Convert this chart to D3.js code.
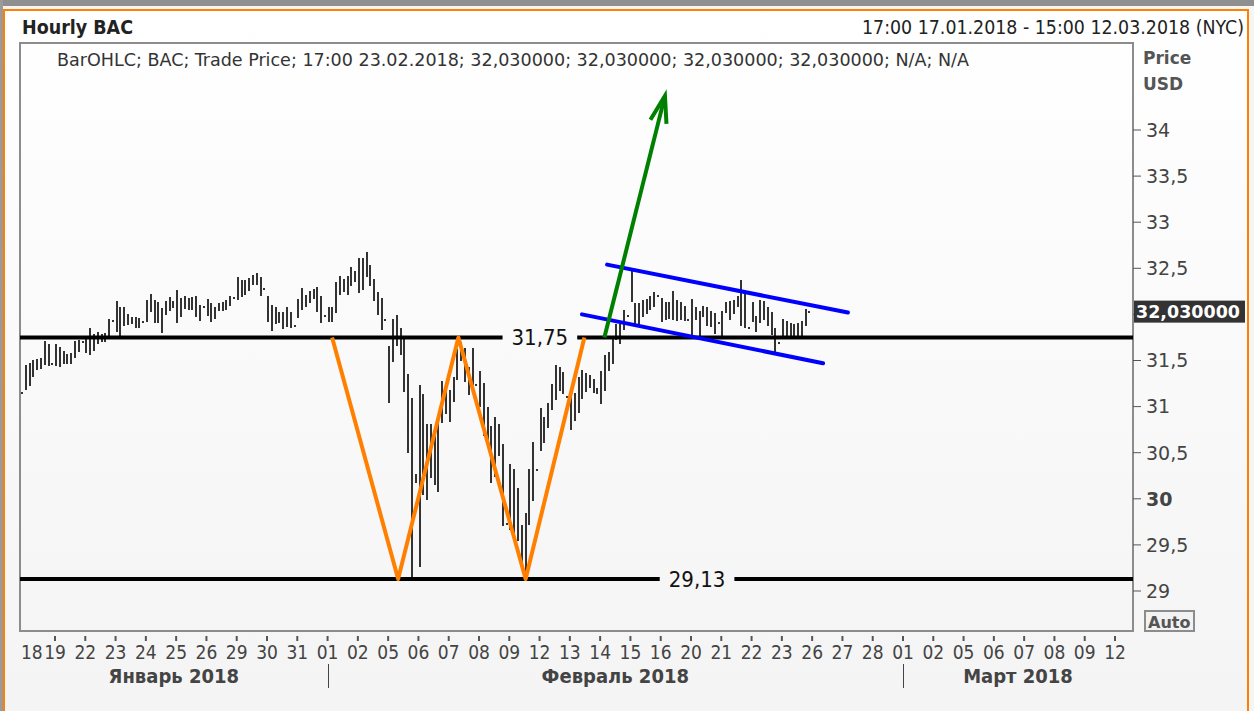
<!DOCTYPE html>
<html>
<head>
<meta charset="utf-8">
<script src="https://cdnjs.cloudflare.com/ajax/libs/d3/7.8.5/d3.min.js"></script>
<style>
  html, body { margin: 0; padding: 0; background: #f5f5f5; }
  svg { display: block; }
  .cond { font-family: 'DejaVu Sans Condensed', 'DejaVu Sans', sans-serif; font-stretch: condensed; }
  .wide { font-family: 'DejaVu Sans', Verdana, sans-serif; }
</style>
</head>
<body>
<svg id="chart" width="1254" height="711"></svg>
<script>
// Trading sessions on the time axis (index 0 = 17.01.2018)
const sessionDates = [
  '2018-01-17', '2018-01-18', '2018-01-19', '2018-01-22', '2018-01-23', '2018-01-24',
  '2018-01-25', '2018-01-26', '2018-01-29', '2018-01-30', '2018-01-31',
  '2018-02-01', '2018-02-02', '2018-02-05', '2018-02-06', '2018-02-07', '2018-02-08',
  '2018-02-09', '2018-02-12', '2018-02-13', '2018-02-14', '2018-02-15', '2018-02-16',
  '2018-02-20', '2018-02-21', '2018-02-22', '2018-02-23', '2018-02-26', '2018-02-27',
  '2018-02-28', '2018-03-01', '2018-03-02', '2018-03-05', '2018-03-06', '2018-03-07',
  '2018-03-08', '2018-03-09', '2018-03-12'
];

const monthNames = ['Январь 2018', 'Февраль 2018', 'Март 2018'];
const monthStarts = ['2018-02-01', '2018-03-01'];

// hourly bars: 10:00 ... 17:00, one row per session (17.01 .. 23.02)
const barHours = [10, 11, 12, 13, 14, 15, 16, 17];

const barHighs = [
  [null, null, null, null, null, null, null, 31.15],
  [31.44, 31.46, 31.50, 31.51, 31.52, 31.70, 31.67, 31.46],
  [31.67, 31.64, 31.59, 31.56, 31.57, 31.70, 31.71, 31.70],
  [31.73, 31.84, 31.78, 31.80, 31.78, 31.79, 31.94, 31.93],
  [32.13, 32.07, 32.07, 31.99, 31.96, 31.96, 31.95, 31.92],
  [32.15, 32.21, 32.14, 32.12, 32.06, 32.13, 32.18, 32.13],
  [32.25, 32.17, 32.19, 32.17, 32.18, 32.19, 32.09, 32.08],
  [32.16, 32.11, 32.07, 32.11, 32.12, 32.15, 32.19, 32.18],
  [32.40, 32.36, 32.36, 32.38, 32.42, 32.44, 32.40, 32.28],
  [32.19, 32.09, 32.07, 32.01, 32.01, 32.07, 32.02, 31.87],
  [32.16, 32.28, 32.20, 32.24, 32.26, 32.29, 32.19, 31.98],
  [32.07, 32.07, 32.34, 32.41, 32.37, 32.41, 32.50, 32.46],
  [32.60, 32.60, 32.67, 32.52, 32.37, 32.23, 32.17, 31.94],
  [31.65, 31.94, 31.98, 31.84, 31.72, 31.34, 31.08, 30.26],
  [31.22, 31.13, 30.80, 30.80, 30.76, 30.82, 31.27, 31.21],
  [31.17, 31.31, 31.61, 31.69, 31.63, 31.42, 31.62, 31.23],
  [31.38, 31.25, 30.98, 30.78, 30.88, 30.80, 30.58, 29.73],
  [30.37, 30.31, 30.11, 29.70, 29.84, 30.31, 30.60, 30.31],
  [30.97, 30.88, 31.03, 31.23, 31.44, 31.42, 31.36, 31.10],
  [31.16, 31.14, 31.31, 31.39, 31.35, 31.33, 31.29, 31.19],
  [31.38, 31.55, 31.58, 31.75, 31.89, 31.88, 32.04, 31.98],
  [32.46, 32.11, 32.11, 32.14, 32.16, 32.19, 32.23, 32.20],
  [32.17, 32.12, 32.12, 32.24, 32.14, 32.12, 32.08, 31.94],
  [32.16, 32.07, 32.03, 32.08, 32.07, 32.03, 32.00, 31.91],
  [32.03, 32.12, 32.13, 32.15, 32.19, 32.36, 32.21, 31.85],
  [32.12, 31.97, 32.14, 32.13, 32.07, 32.01, 31.84, 31.69],
  [31.94, 31.92, 31.90, 31.88, 31.90, 31.92, 32.05, 32.03]
];

const barLows = [
  [null, null, null, null, null, null, null, 31.15],
  [31.18, 31.22, 31.33, 31.40, 31.41, 31.45, 31.44, 31.46],
  [31.44, 31.43, 31.46, 31.46, 31.46, 31.53, 31.59, 31.70],
  [31.58, 31.56, 31.61, 31.68, 31.70, 31.70, 31.74, 31.93],
  [31.81, 31.76, 31.88, 31.88, 31.90, 31.85, 31.85, 31.92],
  [31.92, 32.03, 31.90, 31.90, 31.80, 31.99, 32.04, 32.07],
  [31.90, 31.97, 32.06, 32.05, 32.05, 31.97, 31.93, 32.08],
  [31.99, 31.92, 31.95, 32.03, 32.03, 32.05, 32.09, 32.18],
  [32.16, 32.19, 32.21, 32.25, 32.32, 32.32, 32.21, 32.28],
  [31.92, 31.82, 31.90, 31.90, 31.84, 31.86, 31.86, 31.87],
  [31.97, 32.05, 32.08, 32.12, 32.16, 32.03, 31.91, 31.98],
  [31.92, 31.92, 32.01, 32.21, 32.24, 32.21, 32.30, 32.35],
  [32.23, 32.26, 32.41, 32.30, 32.14, 31.99, 31.83, 31.94],
  [31.04, 31.48, 31.65, 31.56, 31.16, 30.49, 29.13, 30.17],
  [29.26, 30.04, 29.99, 30.22, 30.15, 30.07, 30.82, 30.92],
  [30.83, 31.05, 31.29, 31.49, 31.27, 31.13, 31.23, 31.23],
  [31.00, 30.69, 30.57, 30.17, 30.24, 30.46, 29.70, 29.73],
  [29.66, 29.59, 29.55, 29.25, 29.12, 29.71, 29.97, 30.31],
  [30.51, 30.61, 30.77, 30.96, 31.07, 31.17, 31.13, 31.10],
  [30.75, 30.85, 30.93, 31.09, 31.16, 31.20, 31.15, 31.14],
  [31.03, 31.17, 31.38, 31.46, 31.73, 31.67, 31.83, 31.98],
  [32.13, 31.87, 31.86, 31.97, 32.01, 32.05, 32.08, 32.20],
  [31.92, 31.94, 31.95, 31.94, 31.92, 31.94, 31.93, 31.94],
  [31.76, 31.94, 31.76, 31.97, 31.88, 31.87, 31.78, 31.91],
  [31.76, 32.01, 31.94, 32.01, 32.08, 31.87, 31.85, 31.85],
  [31.91, 31.81, 31.90, 31.94, 31.87, 31.77, 31.59, 31.69],
  [31.76, 31.76, 31.76, 31.76, 31.76, 31.76, 31.88, 32.03]
];

// horizontal levels and where their labels sit (session index)
const levels = [31.75, 29.13];
const levelLabelAt = [18.01, 23.2];

// drawn annotations as [session index, price]
const wPattern = [[11.15, 31.75], [13.33, 29.13], [15.32, 31.75], [17.54, 29.13], [19.48, 31.75]];
const breakoutArrow = [[20.14, 31.75], [22.14, 34.37]];
const channelUpper = [[20.23, 32.54], [28.18, 32.02]];
const channelLower = [[19.40, 32.00], [27.36, 31.47]];

const yTicks = [29, 29.5, 30, 30.5, 31, 31.5, 32, 32.5, 33, 33.5, 34];
const lastPrice = 32.03;

const titleText = 'Hourly BAC';
const rangeText = '17:00 17.01.2018 - 15:00 12.03.2018 (NYC)';
const legendText = 'BarOHLC; BAC; Trade Price; 17:00 23.02.2018; 32,030000; 32,030000; 32,030000; 32,030000; N/A; N/A';

// ---------------------------------------------------------------
const svg = d3.select('#chart');
const plot = { left: 20, right: 1133, top: 43, bottom: 631 };

// session index -> px, price -> px
const x = d3.scaleLinear().domain([2, 37]).range([55, 1115]);
const y = d3.scaleLinear().domain([29, 34]).range([591, 130]);
const fmtComma = v => String(v).replace('.', ',');

const defs = svg.append('defs');
const grad = defs.append('linearGradient')
  .attr('id', 'bg-grad')
  .attr('x1', 0).attr('y1', 0).attr('x2', 0).attr('y2', 1);
grad.append('stop').attr('offset', '0%').attr('stop-color', '#ffffff');
grad.append('stop').attr('offset', '100%').attr('stop-color', '#f4f4f4');

// frame
svg.append('rect').attr('width', 1254).attr('height', 711).attr('fill', '#f5f5f5');
svg.append('rect').attr('x', 5).attr('y', 11).attr('width', 1242).attr('height', 700)
  .attr('fill', 'url(#bg-grad)');
svg.append('rect').attr('width', 1254).attr('height', 6).attr('fill', '#8f8f8f');
svg.append('rect').attr('width', 3).attr('height', 711).attr('fill', '#9a9a9a');
svg.append('rect').attr('x', 3).attr('y', 9).attr('width', 1246).attr('height', 2).attr('fill', '#ff8000');
svg.append('rect').attr('x', 3).attr('y', 9).attr('width', 2).attr('height', 702).attr('fill', '#ff8000');
svg.append('rect').attr('x', 1247).attr('y', 9).attr('width', 2).attr('height', 702).attr('fill', '#ff8000');

// header
svg.append('text').attr('class', 'cond')
  .attr('x', 22).attr('y', 34)
  .attr('font-size', 19).attr('font-weight', 'bold').attr('fill', '#222')
  .attr('textLength', 111).attr('lengthAdjust', 'spacingAndGlyphs')
  .text(titleText);

svg.append('text').attr('class', 'cond')
  .attr('x', 1244).attr('y', 34)
  .attr('text-anchor', 'end')
  .attr('font-size', 19).attr('fill', '#222')
  .attr('textLength', 382).attr('lengthAdjust', 'spacingAndGlyphs')
  .text(rangeText);

// plot box
svg.append('rect')
  .attr('x', plot.left).attr('y', plot.top)
  .attr('width', plot.right - plot.left).attr('height', plot.bottom - plot.top)
  .attr('fill', 'none')
  .attr('stroke', '#8c8c8c').attr('stroke-width', 2);

svg.append('text').attr('class', 'cond')
  .attr('x', 57).attr('y', 66)
  .attr('font-size', 18).attr('fill', '#333')
  .attr('textLength', 912).attr('lengthAdjust', 'spacingAndGlyphs')
  .text(legendText);

// bars
let bars = [];
barHighs.forEach((row, d) => {
  row.forEach((hi, j) => {
    if (hi === null) { return; }
    bars.push({ pos: d + (barHours[j] - 10 + 0.3) / 8, hi: hi, lo: barLows[d][j] });
  });
});

svg.append('g').attr('class', 'bars')
  .selectAll('rect')
  .data(bars)
  .join('rect')
  .attr('x', d => Math.round(x(d.pos)) - 1)
  .attr('y', d => Math.round(y(d.hi)) - 1)
  .attr('width', 2)
  .attr('height', d => Math.max(2, Math.round(y(d.lo) - y(d.hi)) + 1))
  .attr('fill', '#333');

// horizontal levels with a gap around the label
const levelGroup = svg.append('g').attr('class', 'levels');
levels.forEach((lv, i) => {
  const cx = x(levelLabelAt[i]);
  const label = levelGroup.append('text').attr('class', 'cond')
    .attr('x', cx).attr('y', y(lv))
    .attr('dy', '0.36em')
    .attr('text-anchor', 'middle')
    .attr('font-size', 22).attr('fill', '#111')
    .text(fmtComma(lv));
  const half = label.node().getComputedTextLength() / 2 + 9;
  [[plot.left, cx - half], [cx + half, plot.right]].forEach(seg => {
    levelGroup.append('line')
      .attr('x1', seg[0]).attr('x2', seg[1])
      .attr('y1', y(lv)).attr('y2', y(lv))
      .attr('stroke', '#000').attr('stroke-width', 4);
  });
});

const line = d3.line().x(d => x(d[0])).y(d => y(d[1]));

svg.append('path')
  .attr('d', line(wPattern))
  .attr('fill', 'none')
  .attr('stroke', '#ff8000').attr('stroke-width', 4)
  .attr('stroke-linejoin', 'round');

[channelUpper, channelLower].forEach(seg => {
  svg.append('path')
    .attr('d', line(seg))
    .attr('fill', 'none')
    .attr('stroke', '#0000ff').attr('stroke-width', 4)
    .attr('stroke-linecap', 'round');
});

// breakout arrow
const tail = [x(breakoutArrow[0][0]), y(breakoutArrow[0][1])];
const tip = [x(breakoutArrow[1][0]), y(breakoutArrow[1][1])];
const ang = Math.atan2(tail[1] - tip[1], tail[0] - tip[0]);
const headLen = 28, headSpread = 0.3;
const arrowPts = [
  [tip[0] + headLen * Math.cos(ang + headSpread), tip[1] + headLen * Math.sin(ang + headSpread)],
  tip,
  [tip[0] + headLen * Math.cos(ang - headSpread), tip[1] + headLen * Math.sin(ang - headSpread)]
];
svg.append('path')
  .attr('d', d3.line()([tail, tip]))
  .attr('stroke', '#008000').attr('stroke-width', 4).attr('fill', 'none');
svg.append('path')
  .attr('d', d3.line()(arrowPts))
  .attr('stroke', '#008000').attr('stroke-width', 4).attr('fill', 'none')
  .attr('stroke-linejoin', 'miter');

// y axis (right); the label under the last-price box is not shown
const boxTop = y(lastPrice) - 11, boxBottom = y(lastPrice) + 11;
const yAxis = svg.append('g').attr('class', 'y-axis');
yAxis.selectAll('line')
  .data(yTicks)
  .join('line')
  .attr('x1', plot.right).attr('x2', plot.right + 8)
  .attr('y1', d => y(d)).attr('y2', d => y(d))
  .attr('stroke', '#555').attr('stroke-width', 1);
yAxis.selectAll('text')
  .data(yTicks.filter(d => y(d) + 8 < boxTop || y(d) - 8 > boxBottom))
  .join('text')
  .attr('class', 'wide')
  .attr('x', 1146).attr('y', d => y(d))
  .attr('dy', '0.36em')
  .attr('font-size', 19)
  .attr('font-weight', d => d % 10 === 0 ? 'bold' : 'normal')
  .attr('fill', '#444')
  .text(d => fmtComma(d));

svg.append('text').attr('class', 'wide')
  .attr('x', 1143).attr('y', 64)
  .attr('font-size', 17).attr('font-weight', 'bold').attr('fill', '#555')
  .text('Price');
svg.append('text').attr('class', 'wide')
  .attr('x', 1143).attr('y', 90)
  .attr('font-size', 17).attr('font-weight', 'bold').attr('fill', '#555')
  .text('USD');

// last price box
svg.append('rect')
  .attr('x', plot.right + 1).attr('y', boxTop)
  .attr('width', 111).attr('height', 22)
  .attr('fill', '#333');
svg.append('text').attr('class', 'wide')
  .attr('x', plot.right + 3).attr('y', y(lastPrice))
  .attr('dy', '0.36em')
  .attr('font-size', 17).attr('font-weight', 'bold').attr('fill', '#fff')
  .attr('textLength', 104).attr('lengthAdjust', 'spacingAndGlyphs')
  .text(lastPrice.toFixed(6).replace('.', ','));

// Auto button
svg.append('rect')
  .attr('x', 1145).attr('y', 611).attr('width', 49).attr('height', 20)
  .attr('fill', '#f2f2f2').attr('stroke', '#8c8c8c').attr('stroke-width', 2);
svg.append('text').attr('class', 'wide')
  .attr('x', 1148).attr('y', 628)
  .attr('font-size', 16).attr('font-weight', 'bold').attr('fill', '#555')
  .text('Auto');

// x axis
const parseDay = d3.timeParse('%Y-%m-%d');
const fmtDay = d3.timeFormat('%d');
const xAxis = svg.append('g').attr('class', 'x-axis');
sessionDates.forEach((ds, i) => {
  if (i === 0) { return; }
  const px = x(i);
  const lbl = xAxis.append('text').attr('class', 'cond')
    .attr('y', 659)
    .attr('text-anchor', 'middle')
    .attr('font-size', 19).attr('fill', '#444')
    .text(fmtDay(parseDay(ds)));
  const w = lbl.node().getComputedTextLength();
  const clamped = px - w / 2 < plot.left;
  lbl.attr('x', clamped ? plot.left + 1 + w / 2 : px);
  if (!clamped) {
    xAxis.append('line')
      .attr('x1', px).attr('x2', px)
      .attr('y1', 636).attr('y2', 641)
      .attr('stroke', '#555').attr('stroke-width', 2);
  }
});

// month separators and labels
const bounds = [plot.left]
  .concat(monthStarts.map(ds => x(sessionDates.indexOf(ds))))
  .concat([plot.right]);
monthStarts.forEach(ds => {
  const px = Math.round(x(sessionDates.indexOf(ds))) + 0.5;
  xAxis.append('line')
    .attr('x1', px).attr('x2', px)
    .attr('y1', 664).attr('y2', 688)
    .attr('stroke', '#444').attr('stroke-width', 1);
});
monthNames.forEach((m, i) => {
  xAxis.append('text').attr('class', 'cond')
    .attr('x', (bounds[i] + bounds[i + 1]) / 2).attr('y', 683)
    .attr('text-anchor', 'middle')
    .attr('font-size', 20).attr('font-weight', 'bold').attr('fill', '#444')
    .text(m);
});
</script>
</body>
</html>
